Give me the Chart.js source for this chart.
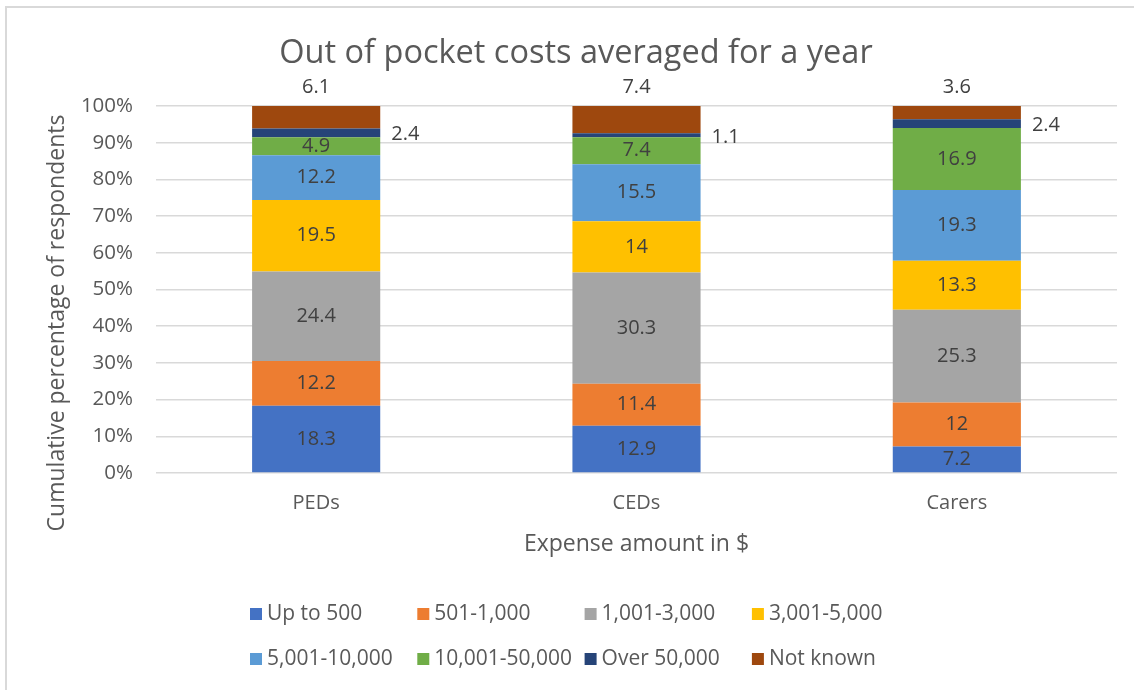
<!DOCTYPE html>
<html>
<head>
<meta charset="utf-8">
<script src="https://cdn.jsdelivr.net/npm/chart.js@4"></script>
<style>
  html, body { margin: 0; padding: 0; background: #fff; }
  #wrap { width: 1134px; height: 690px; position: relative; }
</style>
</head>
<body>
<div id="wrap"><canvas id="c" width="1134" height="690"></canvas></div>
<script>
const categories = ['PEDs', 'CEDs', 'Carers'];
const seriesNames = ['Up to 500', '501-1,000', '1,001-3,000', '3,001-5,000', '5,001-10,000', '10,001-50,000', 'Over 50,000', 'Not known'];
const upTo500     = [18.3, 12.9, 7.2];
const s501_1000   = [12.2, 11.4, 12];
const s1001_3000  = [24.4, 30.3, 25.3];
const s3001_5000  = [19.5, 14, 13.3];
const s5001_10000 = [12.2, 15.5, 19.3];
const s10001_50000 = [4.9, 7.4, 16.9];
const over50000   = [2.4, 1.1, 2.4];
const notKnown    = [6.1, 7.4, 3.6];
const yTicks = [0, 10, 20, 30, 40, 50, 60, 70, 80, 90, 100];

const seriesValues = [upTo500, s501_1000, s1001_3000, s3001_5000, s5001_10000, s10001_50000, over50000, notKnown];
const colors = ['#4472C4', '#ED7D31', '#A5A5A5', '#FFC000', '#5B9BD5', '#70AD47', '#264478', '#9E480E'];

const FONT = "'Open Sans', 'Noto Sans', sans-serif";
const TXT = '#595959';
const LBL = '#404040';

const frame = {
  id: 'frame',
  beforeDraw(chart) {
    const ctx = chart.ctx;
    ctx.save();
    ctx.fillStyle = '#fff';
    ctx.fillRect(0, 0, chart.width, chart.height);
    ctx.strokeStyle = '#d9d9d9';
    ctx.lineWidth = 2;
    ctx.beginPath();
    ctx.moveTo(6, chart.height);
    ctx.lineTo(6, 7);
    ctx.lineTo(chart.width, 7);
    ctx.stroke();
    ctx.restore();
  }
};

const labels = {
  id: 'labels',
  afterDatasetsDraw(chart) {
    const ctx = chart.ctx;
    ctx.save();
    ctx.font = '20px ' + FONT;
    ctx.fillStyle = LBL;
    chart.data.datasets.forEach((ds, di) => {
      const meta = chart.getDatasetMeta(di);
      meta.data.forEach((el, i) => {
        const v = ds.data[i];
        const txt = String(v);
        const cy = (el.y + el.base) / 2;
        ctx.textBaseline = 'middle';
        if (di === 6) {
          ctx.textAlign = 'left';
          ctx.fillText(txt, el.x + el.width / 2 + 11, cy + 2);
        } else if (di === 7) {
          ctx.textAlign = 'center';
          ctx.fillText(txt, el.x, el.y - 19);
        } else {
          ctx.textAlign = 'center';
          ctx.fillText(txt, el.x, cy);
        }
      });
    });
    ctx.restore();
  },
  afterDraw(chart) {
    const ctx = chart.ctx;
    ctx.save();
    // y axis title
    ctx.font = '23px ' + FONT;
    ctx.fillStyle = TXT;
    ctx.textAlign = 'center';
    ctx.textBaseline = 'middle';
    ctx.translate(57, 323);
    ctx.rotate(-Math.PI / 2);
    ctx.fillText('Cumulative percentage of respondents', 0, 0);
    ctx.restore();
    // legend
    ctx.save();
    ctx.font = '21px ' + FONT;
    ctx.textAlign = 'left';
    ctx.textBaseline = 'middle';
    chart.data.datasets.forEach((ds, di) => {
      const col = di % 4, row = Math.floor(di / 4);
      const bx = 250 + col * 167.3;
      const cy = 614 + row * 45;
      ctx.fillStyle = ds.backgroundColor;
      ctx.fillRect(bx, cy - 6, 12, 12);
      ctx.fillStyle = TXT;
      ctx.fillText(ds.label, bx + 17, cy);
    });
    ctx.restore();
  }
};

new Chart(document.getElementById('c'), {
  type: 'bar',
  data: {
    labels: categories,
    datasets: seriesNames.map((n, i) => ({
      label: n,
      data: seriesValues[i],
      backgroundColor: colors[i],
      borderWidth: 0,
      categoryPercentage: 1,
      barPercentage: 0.4
    }))
  },
  options: {
    responsive: false,
    animation: false,
    layout: { padding: { left: 35, right: 17, top: 0, bottom: 0 } },
    plugins: {
      legend: { display: false },
      tooltip: { enabled: false },
      title: {
        display: true,
        text: 'Out of pocket costs averaged for a year',
        color: TXT,
        font: { family: FONT, size: 32.5, weight: 'normal', lineHeight: 1.2 },
        padding: { top: 34, bottom: 33 }
      }
    },
    scales: {
      x: {
        stacked: true,
        grid: { display: false, drawTicks: false },
        border: { display: false },
        ticks: { color: TXT, font: { family: FONT, size: 20 }, padding: 18 },
        title: {
          display: true,
          text: 'Expense amount in $',
          color: TXT,
          font: { family: FONT, size: 23 },
          padding: { top: 0, bottom: 132 }
        },
        afterFit(scale) { scale.height = 217; }
      },
      y: {
        stacked: true,
        min: 0,
        max: 100,
        afterBuildTicks(scale) { scale.ticks = yTicks.map(v => ({ value: v })); },
        grid: { color: '#d9d9d9', lineWidth: 1.5, drawTicks: false },
        border: { display: false },
        ticks: {
          color: TXT,
          font: { family: FONT, size: 20.5 },
          padding: 23,
          callback: v => v + '%'
        },
        afterFit(scale) { scale.width = 121; }
      }
    }
  },
  plugins: [frame, labels]
});
</script>
</body>
</html>
